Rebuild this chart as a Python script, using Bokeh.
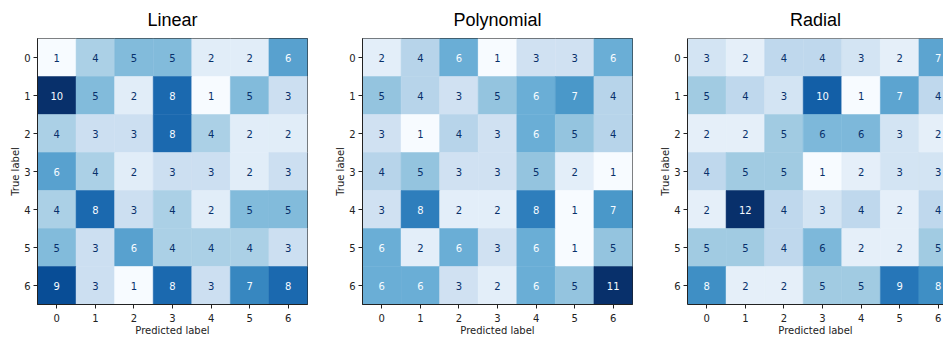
from bokeh.plotting import figure
from bokeh.layouts import row
from bokeh.models import ColumnDataSource, LinearColorMapper, FixedTicker, Span
from bokeh.transform import transform
from bokeh.palettes import Blues256
from bokeh.core.properties import value
from bokeh.embed import file_html
from bokeh.resources import INLINE

labels = [0, 1, 2, 3, 4, 5, 6]
titles = ["Linear", "Polynomial", "Radial"]

linear_cm = [
    [1, 4, 5, 5, 2, 2, 6],
    [10, 5, 2, 8, 1, 5, 3],
    [4, 3, 3, 8, 4, 2, 2],
    [6, 4, 2, 3, 3, 2, 3],
    [4, 8, 3, 4, 2, 5, 5],
    [5, 3, 6, 4, 4, 4, 3],
    [9, 3, 1, 8, 3, 7, 8],
]
poly_cm = [
    [2, 4, 6, 1, 3, 3, 6],
    [5, 4, 3, 5, 6, 7, 4],
    [3, 1, 4, 3, 6, 5, 4],
    [4, 5, 3, 3, 5, 2, 1],
    [3, 8, 2, 2, 8, 1, 7],
    [6, 2, 6, 3, 6, 1, 5],
    [6, 6, 3, 2, 6, 5, 11],
]
radial_cm = [
    [3, 2, 4, 4, 3, 2, 7],
    [5, 4, 3, 10, 1, 7, 4],
    [2, 2, 5, 6, 6, 3, 2],
    [4, 5, 5, 1, 2, 3, 3],
    [2, 12, 4, 3, 4, 2, 4],
    [5, 5, 4, 6, 2, 2, 5],
    [8, 2, 2, 5, 5, 9, 8],
]

palette = list(Blues256)[::-1]  # light -> dark
DARK = "#08306b"
LIGHT = "#f7fbff"
CELL = 270 / 7.0


def make(cm, title, frame_w, border_right, last=False):
    xs, ys, vals, tcol, txt = [], [], [], [], []
    flat = [v for r in cm for v in r]
    lo, hi = min(flat), max(flat)
    thresh = (lo + hi) / 2.0
    for i, r in enumerate(cm):
        for j, v in enumerate(r):
            xs.append(labels[j])
            ys.append(labels[i])
            vals.append(v)
            txt.append(str(v))
            tcol.append(DARK if v < thresh else LIGHT)
    src = ColumnDataSource(dict(x=xs, y=ys, v=vals, t=txt, tc=tcol))
    mapper = LinearColorMapper(palette=palette, low=lo, high=hi)
    x_end = -0.5 + frame_w / CELL
    p = figure(frame_width=frame_w, frame_height=266,
               x_range=(-0.5, x_end), y_range=(6.5, -0.5),
               output_backend="svg", toolbar_location=None, tools="",
               min_border_left=37, min_border_right=border_right,
               min_border_top=38, min_border_bottom=0)
    p.rect(x="x", y="y", width=1, height=1, source=src,
           fill_color=transform("v", mapper), line_color=transform("v", mapper), line_width=0.5)
    p.text(x="x", y="y", text="t", source=src, text_color="tc",
           text_align="center", text_baseline="middle",
           text_font=value("DejaVu Sans"), text_font_size="10px")
    p.title.text = title
    p.title.align = "center"
    p.title.vertical_align = "top"
    p.title.text_font = "Liberation Sans"
    p.title.text_font_size = "18px"
    p.title.text_font_style = "normal"
    p.title.text_color = "black"
    p.title.standoff = 14
    p.grid.visible = False
    for ax in (p.xaxis[0], p.yaxis[0]):
        ax.ticker = FixedTicker(ticks=labels)
        ax.major_label_text_font = "DejaVu Sans"
        ax.major_label_text_font_size = "10px"
        ax.major_label_text_color = "#222222"
        ax.axis_label_text_font = "DejaVu Sans"
        ax.axis_label_text_font_size = "10px"
        ax.axis_label_text_font_style = "normal"
        ax.axis_label_text_color = "#222222"
        ax.minor_tick_line_color = None
        ax.major_tick_in = 0
        ax.major_tick_out = 4
        ax.major_tick_line_color = "#222222"
        ax.axis_line_color = "#222222"
    p.xaxis.major_label_standoff = 5
    p.xaxis.axis_label_standoff = 0
    p.yaxis.major_label_standoff = 3
    p.yaxis.axis_label_standoff = 0
    p.xaxis.axis_label = "Predicted label"
    p.yaxis.axis_label = "True label"
    if last:
        p.outline_line_color = None
        p.add_layout(Span(location=-0.5, dimension="width", line_color="#222222", line_width=1))
    else:
        p.outline_line_color = "#222222"
        p.outline_line_alpha = 1.0
    return p


p1 = make(linear_cm, titles[0], 270, 18)
p2 = make(poly_cm, titles[1], 270, 18)
p3 = make(radial_cm, titles[2], 256, 0, last=True)

layout = row(p1, p2, p3)
open("out.html", "w").write(file_html(layout, INLINE))
